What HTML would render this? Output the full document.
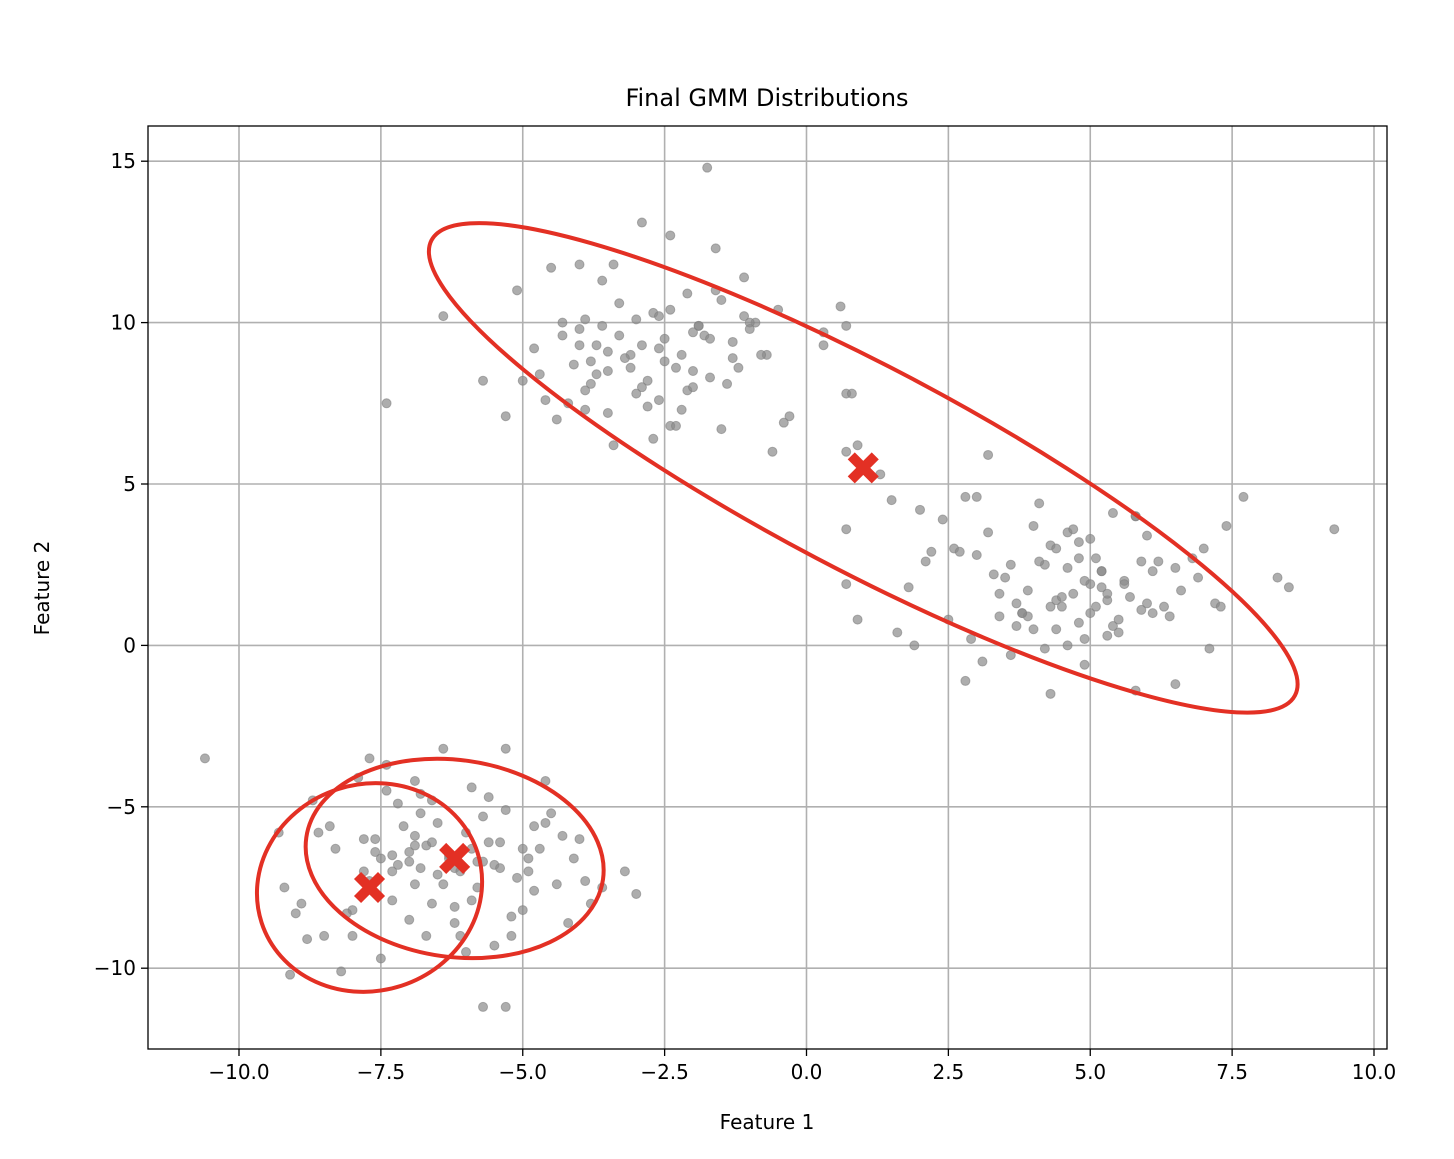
<!DOCTYPE html>
<html><head><meta charset="utf-8"><style>
body{margin:0;background:#fff}
svg text{font-family:"DejaVu Sans","Liberation Sans",sans-serif;fill:#000}
</style></head><body>
<svg id="chart" width="1454" height="1154" xmlns="http://www.w3.org/2000/svg">
<rect width="1454" height="1154" fill="#fff"/>
<g id="grid"></g>
<g id="pts"></g>
<g id="ells"></g>
<g id="ticks"></g>
<rect x="148" y="126" width="1239" height="923" fill="none" stroke="#000" stroke-width="1.3"/>
<text x="767" y="106" font-size="24" text-anchor="middle">Final GMM Distributions</text>
<text x="767" y="1129" font-size="20" text-anchor="middle">Feature 1</text>
<text x="49" y="588" font-size="20" text-anchor="middle" transform="rotate(-90 49 588)">Feature 2</text>
</svg>
<script>
const xTicks=[-10,-7.5,-5,-2.5,0,2.5,5,7.5,10];
const yTicks=[-10,-5,0,5,10,15];
const pointsX=[-10.6,-9.1,-5.7,-5.3,-3.0,-3.2,-4.6,-5.3,-6.4,-7.7,-7.9,-7.4,-6.9,-8.7,-8.4,-9.3,-9.2,-8.9,-8.8,-8.5,-8.3,-8.0,-7.8,-7.6,-7.5,-7.3,-7.1,-7.0,-6.8,-6.7,-6.6,-6.5,-6.3,-6.2,-6.0,-5.9,-5.8,-5.6,-5.5,-5.3,-5.1,-5.0,-4.8,-4.6,-4.4,-4.2,-4.0,-3.8,-3.6,-7.2,-6.9,-6.7,-7.5,-7.7,-8.1,-8.2,-6.1,-5.5,-5.2,-4.9,-4.5,-4.3,-6.8,-7.0,-6.4,-5.7,-5.0,-4.7,-8.0,-7.3,-6.6,-5.9,-5.4,-4.1,-3.9,-4.8,-6.2,-7.8,-8.6,-9.0,-5.6,-6.9,-7.4,-6.0,-5.2,
-7.0,-6.8,-6.6,-6.3,-6.1,-5.8,-7.2,-7.6,-6.5,-5.9,-5.4,-4.9,-6.9,-7.3,-6.2,-5.7,
-1.75,-7.4,-6.4,-5.7,-2.9,-2.4,-1.6,-4.5,-3.4,-5.1,-5,-4.8,-4.6,-4.3,-4.1,-3.9,-3.7,-3.5,-3.3,-3.1,-2.9,-2.7,-2.5,-2.3,-2.1,-1.9,-1.7,-1.5,-1.3,-1.1,-0.9,-0.7,-0.5,-3.8,-3.6,-3.0,-2.6,-2.2,-1.8,-1.4,-1.0,-4.4,-4.0,-3.2,-2.8,-2.0,-1.2,-0.8,-3.5,-2.4,-1.6,-4.2,-3.4,-2.7,-2.1,-1.3,-0.6,-5.3,-4.7,-3.9,-2.3,-1.5,-2.9,-3.6,-2.0,-1.0,-4.0,-2.5,0.7,0.9,0.7,0.8,1.3,1.5,0.6,0.7,0.3,0.3,-0.3,-0.4,
-4.0,-3.7,-3.3,-3.0,-2.6,-2.2,-1.9,-3.8,-3.1,-2.4,-2.8,-1.7,-4.3,-3.5,-2.0,-1.1,-3.9,-2.6,
9.3,8.3,8.5,7.7,3.2,0.7,0.7,0.9,1.9,2.8,4.3,6.5,7.1,5.8,2.0,2.2,2.4,2.6,2.8,3.0,3.2,3.4,3.6,3.8,4.0,4.2,4.4,4.6,4.8,5.0,5.2,5.4,5.6,5.8,6.0,6.2,6.4,6.6,6.8,7.0,7.2,7.4,2.9,3.3,3.7,4.1,4.5,4.9,5.3,5.7,6.1,6.5,3.5,3.9,4.3,4.7,5.1,5.5,5.9,4.0,4.4,4.8,5.2,5.6,3.1,3.6,4.6,5.0,5.4,6.3,2.5,3.0,4.2,4.9,5.8,6.9,1.6,1.8,2.1,3.8,4.5,5.3,6.1,7.3,4.7,5.1,
3.9,4.3,4.6,5.0,5.2,4.1,3.7,4.8,5.5,4.4,3.4,5.9,2.7,6.0,4.9,5.3];
const pointsY=[-3.5,-10.2,-11.2,-11.2,-7.7,-7.0,-4.2,-3.2,-3.2,-3.5,-4.1,-3.7,-4.2,-4.8,-5.6,-5.8,-7.5,-8.0,-9.1,-9.0,-6.3,-8.2,-7.0,-6.0,-9.7,-6.5,-5.6,-6.7,-5.2,-6.2,-8.0,-7.1,-6.6,-6.9,-5.8,-6.3,-7.5,-6.1,-6.8,-5.1,-7.2,-6.3,-5.6,-5.5,-7.4,-8.6,-6.0,-8.0,-7.5,-4.9,-7.4,-9.0,-6.6,-7.3,-8.3,-10.1,-9.0,-9.3,-8.4,-7.0,-5.2,-5.9,-4.6,-8.5,-7.4,-6.7,-8.2,-6.3,-9.0,-7.9,-4.8,-4.4,-6.1,-6.6,-7.3,-7.6,-8.6,-6.0,-5.8,-8.3,-4.7,-6.2,-4.5,-9.5,-9.0,
-6.4,-6.9,-6.1,-6.5,-7.0,-6.7,-6.8,-6.4,-5.5,-7.9,-6.9,-6.6,-5.9,-7.0,-8.1,-5.3,
14.8,7.5,10.2,8.2,13.1,12.7,12.3,11.7,11.8,11.0,8.2,9.2,7.6,9.6,8.7,10.1,9.3,8.5,10.6,9.0,8.0,10.3,9.5,8.6,10.9,9.9,8.3,10.7,9.4,11.4,10.0,9.0,10.4,8.8,9.9,7.8,10.2,7.3,9.6,8.1,10.0,7.0,9.3,8.9,7.4,9.7,8.6,9.0,7.2,6.8,11.0,7.5,6.2,6.4,7.9,8.9,6.0,7.1,8.4,7.3,6.8,6.7,9.3,11.3,8.0,9.8,11.8,8.8,6.0,6.2,7.8,7.8,5.3,4.5,10.5,9.9,9.7,9.3,7.1,6.9,
9.8,8.4,9.6,10.1,9.2,9.0,9.9,8.1,8.6,10.4,8.2,9.5,10.0,9.1,8.5,10.2,7.9,7.6,
3.6,2.1,1.8,4.6,5.9,3.6,1.9,0.8,0.0,-1.1,-1.5,-1.2,-0.1,-1.4,4.2,2.9,3.9,3.0,4.6,2.8,3.5,1.6,2.5,1.0,3.7,2.5,1.4,3.5,2.7,1.9,2.3,0.6,2.0,4.0,1.3,2.6,0.9,1.7,2.7,3.0,1.3,3.7,0.2,2.2,0.6,4.4,1.2,2.0,0.3,1.5,1.0,2.4,2.1,0.9,3.1,1.6,1.2,0.4,2.6,0.5,3.0,0.7,2.3,1.9,-0.5,-0.3,0.0,3.3,4.1,1.2,0.8,4.6,-0.1,-0.6,4.0,2.1,0.4,1.8,2.6,1.0,1.5,1.4,2.3,1.2,3.6,2.7,
1.7,1.2,2.4,1.0,1.8,2.6,1.3,3.2,0.8,0.5,0.9,1.1,2.9,3.4,0.2,1.6];
const centersX=[1.0,-6.2,-7.7];
const centersY=[5.5,-6.6,-7.5];
const ellRx=[8.6,2.64,2.0];
const ellRy=[3.15,3.05,3.2];
const ellAngle=[27.8,8,-18];
const ns="http://www.w3.org/2000/svg";
const X0=148,X1=1387,Y0=126,Y1=1049;
function sx(v){return 806.5+v*56.75;}
function sy(v){return 645.4-v*32.28;}
function mk(t,a,parent){const e=document.createElementNS(ns,t);for(const k in a)e.setAttribute(k,a[k]);parent.appendChild(e);return e;}
const grid=document.getElementById('grid'),ticks=document.getElementById('ticks');
xTicks.forEach(t=>{const x=sx(t);
 const g=mk('line',{x1:x,x2:x,y1:Y0,y2:Y1,stroke:'#b0b0b0','stroke-width':1.6},grid);
 
 
 mk('line',{x1:x,x2:x,y1:Y1,y2:Y1+7,stroke:'#000','stroke-width':1.3},ticks);
 const tx=mk('text',{x:x,y:Y1+30,'font-size':20,'text-anchor':'middle'},ticks);
 tx.textContent=(t<0?'\u2212':'')+Math.abs(t).toFixed(1);
 
 });
yTicks.forEach(t=>{const y=sy(t);
 const g=mk('line',{x1:X0,x2:X1,y1:y,y2:y,stroke:'#b0b0b0','stroke-width':1.6},grid);
 
 
 mk('line',{x1:X0-7,x2:X0,y1:y,y2:y,stroke:'#000','stroke-width':1.3},ticks);
 const tx=mk('text',{x:X0-12,y:y+7,'font-size':20,'text-anchor':'end'},ticks);
 tx.textContent=(t<0?'\u2212':'')+Math.abs(t);
 
 });
const pts=document.getElementById('pts');
for(let i=0;i<pointsX.length;i++){
 const c=mk('circle',{cx:sx(pointsX[i]),cy:sy(pointsY[i]),r:4.5,fill:'#8a8a8a','fill-opacity':0.7,stroke:'#808080','stroke-opacity':0.6,'stroke-width':1},pts);
 
 }
const ells=document.getElementById('ells');
for(let i=0;i<centersX.length;i++){
 const cx=sx(centersX[i]),cy=sy(centersY[i]);
 const e=mk('ellipse',{cx:cx,cy:cy,rx:ellRx[i]*56.75,ry:ellRy[i]*32.28,fill:'none',stroke:'#e33024','stroke-width':4,transform:`rotate(${ellAngle[i]} ${cx} ${cy})`},ells);
 
 
}
for(let i=0;i<centersX.length;i++){
 const cx=sx(centersX[i]),cy=sy(centersY[i]),d=12;
 const m=mk('path',{d:`M${cx-d},${cy-d}L${cx+d},${cy+d}M${cx+d},${cy-d}L${cx-d},${cy+d}`,stroke:'#e33024','stroke-width':10},ells);
 
 
}
</script>
</body></html>
